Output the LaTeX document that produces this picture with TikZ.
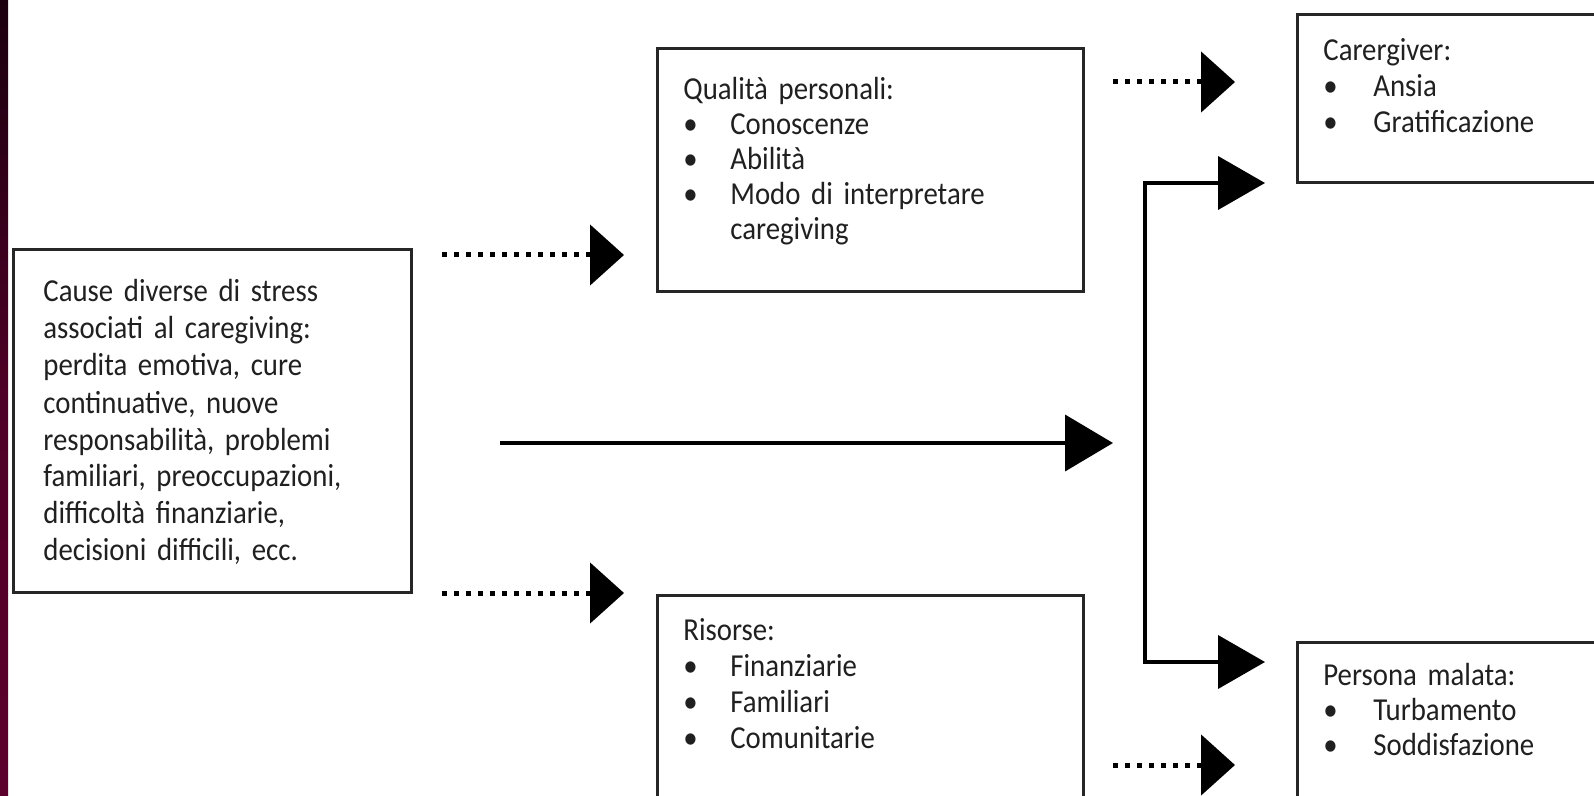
\documentclass[tikz,border=0pt]{standalone}
\usepackage{fontspec}
\setmainfont{Carlito}[FakeStretch=0.9]
\usetikzlibrary{arrows.meta}
\definecolor{stripTop}{RGB}{26,0,14}
\definecolor{stripBot}{RGB}{92,0,44}
\definecolor{ink}{RGB}{32,32,32}
\newcommand\bul[2][23.5pt]{\makebox[#1][l]{\textbullet}#2}
\tikzset{
  boxline/.style={draw=black!85, line width=1.5pt},
  boxtext/.style={anchor=base west, inner sep=0pt, text width=#1, align=left, text=ink},
  solidarrow/.style={line width=2pt, -{Triangle[length=24pt,width=28pt]}},
  elbowarrow/.style={line width=2pt, -{Triangle[length=23.5pt,width=26.5pt]}},
  dotarrow/.style={line width=2.5pt, dash pattern=on 2.5pt off 3.5pt, -{Triangle[length=17pt,width=30pt]}},
}
\begin{document}
\begin{tikzpicture}[x=0.5pt,y=-0.5pt]
\useasboundingbox (0,0) rectangle (1594,796);
\clip (0,0) rectangle (1594,796);
\fill[white] (0,0) rectangle (1594,796);
\shade[top color=stripTop, bottom color=stripBot, middle color=stripBot!80!stripTop] (0,0) rectangle (8,796);

% boxes
\draw[boxline] (13,250) rectangle (411,592);
\draw[boxline] (657,49) rectangle (1083,292);
\draw[boxline] (657,595) rectangle (1083,820);
\draw[boxline] (1297,15) rectangle (1620,183);
\draw[boxline] (1297,642) rectangle (1620,820);

% texts
\node[boxtext=190pt, font=\fontsize{16pt}{18.5pt}\selectfont] (cause) at (43,302)
 {Cause diverse di stress\\associati al caregiving:\\perdita emotiva, cure\\continuative, nuove\\responsabilità, problemi\\familiari, preoccupazioni,\\difficoltà finanziarie,\\decisioni difficili, ecc.};
\node[boxtext=190pt, font=\fontsize{16pt}{17.5pt}\selectfont] (qual) at (683,100)
 {Qualità personali:\\\bul{Conoscenze}\\\bul{Abilità}\\\bul{Modo di interpretare}\\\hspace*{23.5pt}caregiving};
\node[boxtext=190pt, font=\fontsize{16pt}{18pt}\selectfont] (ris) at (683,640)
 {Risorse:\\\bul{Finanziarie}\\\bul{Familiari}\\\bul{Comunitarie}};
\node[boxtext=140pt, font=\fontsize{16pt}{18pt}\selectfont] (care) at (1323,61)
 {Carergiver:\\\bul[25pt]{Ansia}\\\bul[25pt]{Gratificazione}};
\node[boxtext=140pt, font=\fontsize{16pt}{17.5pt}\selectfont] (pers) at (1323,685)
 {Persona malata:\\\bul[25pt]{Turbamento}\\\bul[25pt]{Soddisfazione}};

% connector end points
\coordinate (d1s) at (442,255);  \coordinate (d1e) at (624,255);
\coordinate (d2s) at (442,593);  \coordinate (d2e) at (624,593);
\coordinate (d3s) at (1113,82);  \coordinate (d3e) at (1235,82);
\coordinate (d4s) at (1113,765); \coordinate (d4e) at (1235,765);
\coordinate (ms) at (500,443);   \coordinate (me) at (1113,443);
\coordinate (ej) at (1145,443);
\coordinate (et) at (1265,183);  \coordinate (eb) at (1265,662);

\draw[dotarrow] (d1s) -- (d1e);
\draw[dotarrow] (d2s) -- (d2e);
\draw[dotarrow] (d3s) -- (d3e);
\draw[dotarrow] (d4s) -- (d4e);
\draw[solidarrow] (ms) -- (me);
\draw[elbowarrow] (ej) |- (et);
\draw[elbowarrow] (ej) |- (eb);
\end{tikzpicture}
\end{document}
